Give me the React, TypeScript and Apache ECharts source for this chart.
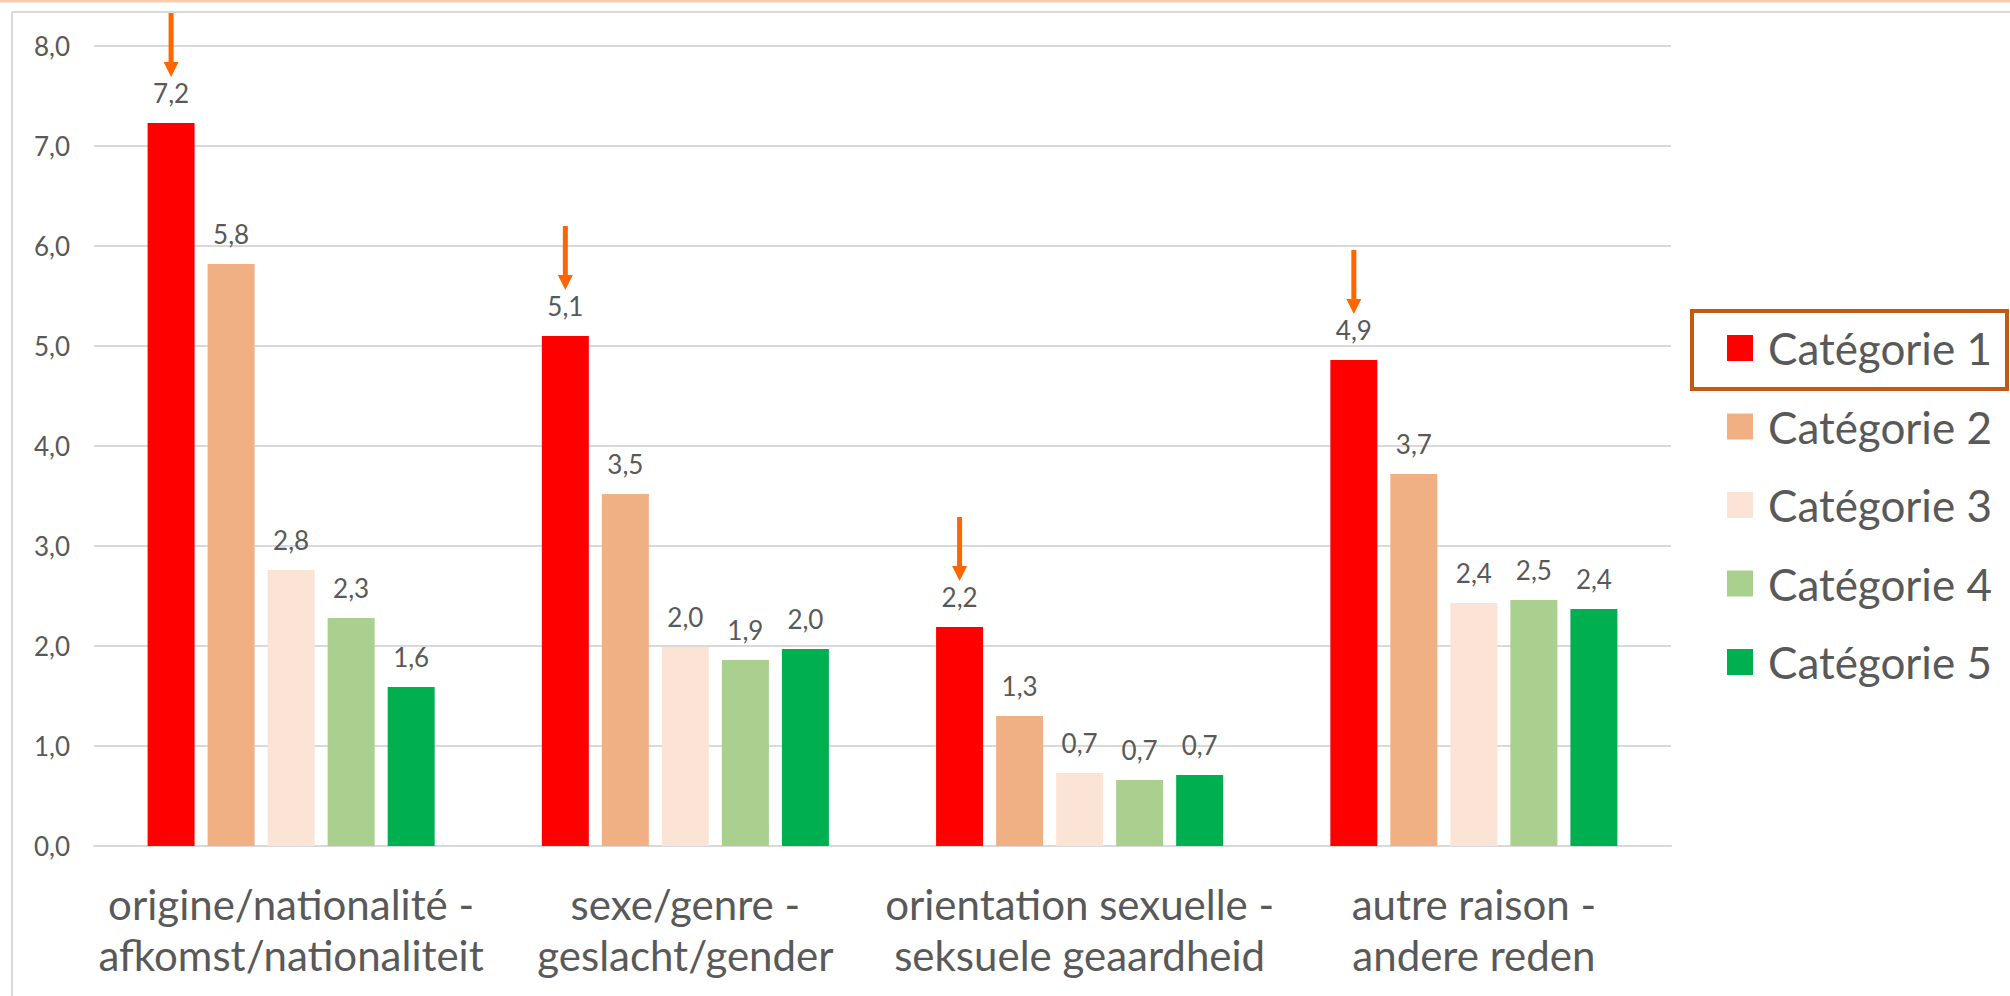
import React, { useEffect, useRef } from "react";
import * as echarts from "echarts";

const categories = [
  "origine/nationalité -\nafkomst/nationaliteit",
  "sexe/genre -\ngeslacht/gender",
  "orientation sexuelle -\nseksuele geaardheid",
  "autre raison -\nandere reden",
];
const seriesNames = ["Catégorie 1", "Catégorie 2", "Catégorie 3", "Catégorie 4", "Catégorie 5"];
const cat1 = [7.23, 5.1, 2.19, 4.86];
const cat2 = [5.82, 3.52, 1.3, 3.72];
const cat3 = [2.76, 1.99, 0.73, 2.43];
const cat4 = [2.28, 1.86, 0.66, 2.46];
const cat5 = [1.59, 1.97, 0.71, 2.37];
const seriesValues = [cat1, cat2, cat3, cat4, cat5];
const colors = ["#FF0000", "#F1B084", "#FBE4D6", "#A9D08E", "#00B050"];
const yTicks = { min: 0, max: 8, interval: 1 };

const FONT = "Lato";
const TEXT = "#595959";

export default function App() {
  const ref = useRef<HTMLDivElement>(null);
  useEffect(() => {
    if (!ref.current) return;
    const chart = echarts.init(ref.current, null, { renderer: "svg" });
    const fmt = (v: number) => v.toFixed(1).replace(".", ",");
    const series: any[] = seriesValues.map((vals, i) => ({
      name: seriesNames[i],
      type: "bar",
      data: vals,
      barWidth: 47,
      barGap: "27.7%",
      itemStyle: { color: colors[i] },
      label: {
        show: true,
        position: "top",
        distance: 15,
        fontFamily: FONT,
        fontSize: 26,
        lineHeight: 30,
        color: TEXT,
        formatter: (p: any) => fmt(p.value),
      },
      ...(i === 0
        ? {
            markPoint: {
              symbol: "path://M5,0 L10,0 L10,49 L15,49 L7.5,64 L0,49 L5,49 Z",
              symbolSize: [15, 64],
              symbolKeepAspect: false,
              symbolOffset: [0, -78],
              itemStyle: { color: "#FF6600" },
              label: { show: false },
              data: vals.map((v, j) => ({ coord: [j, v] })),
            },
          }
        : {}),
    }));
    chart.setOption({
      animation: false,
      backgroundColor: "#FFFFFF",
      grid: { left: 94, right: 339, top: 46, bottom: 150, containLabel: false },
      legend: {
        orient: "vertical",
        left: 1727,
        top: 323,
        padding: 0,
        itemWidth: 26,
        itemHeight: 26,
        itemGap: 28.5,
        icon: "rect",
        data: seriesNames,
        selectedMode: false,
        textStyle: {
          fontFamily: FONT,
          fontSize: 44,
          lineHeight: 50,
          color: TEXT,
          padding: [0, 0, 0, 10],
        },
      },
      xAxis: {
        type: "category",
        data: categories,
        axisTick: { show: false },
        axisLine: { show: true, lineStyle: { color: "#D9D9D9", width: 2 } },
        axisLabel: {
          margin: 32,
          fontFamily: FONT,
          fontSize: 42,
          lineHeight: 51,
          color: TEXT,
          interval: 0,
        },
      },
      yAxis: {
        type: "value",
        min: yTicks.min,
        max: yTicks.max,
        interval: yTicks.interval,
        axisLine: { show: false },
        axisTick: { show: false },
        splitLine: { lineStyle: { color: "#D9D9D9", width: 2 } },
        axisLabel: {
          margin: 24,
          fontFamily: FONT,
          fontSize: 26,
          color: TEXT,
          formatter: (v: number) => fmt(v),
        },
      },
      graphic: [
        {
          type: "line",
          shape: { x1: 0, y1: 1, x2: 2010, y2: 1 },
          style: { stroke: "#F8CBAD", lineWidth: 3 },
        },
        {
          type: "line",
          shape: { x1: 12, y1: 12, x2: 2010, y2: 12 },
          style: { stroke: "#D9D9D9", lineWidth: 2 },
        },
        {
          type: "line",
          shape: { x1: 12, y1: 12, x2: 12, y2: 996 },
          style: { stroke: "#D9D9D9", lineWidth: 2 },
        },
        {
          type: "rect",
          shape: { x: 1692, y: 311, width: 315, height: 78 },
          style: { fill: "none", stroke: "#C65911", lineWidth: 4 },
        },
      ],
      series,
    });
    return () => chart.dispose();
  }, []);
  return (
    <div
      ref={ref}
      style={{ position: "absolute", left: 0, top: 0, width: 2010, height: 996, background: "#fff" }}
    />
  );
}
